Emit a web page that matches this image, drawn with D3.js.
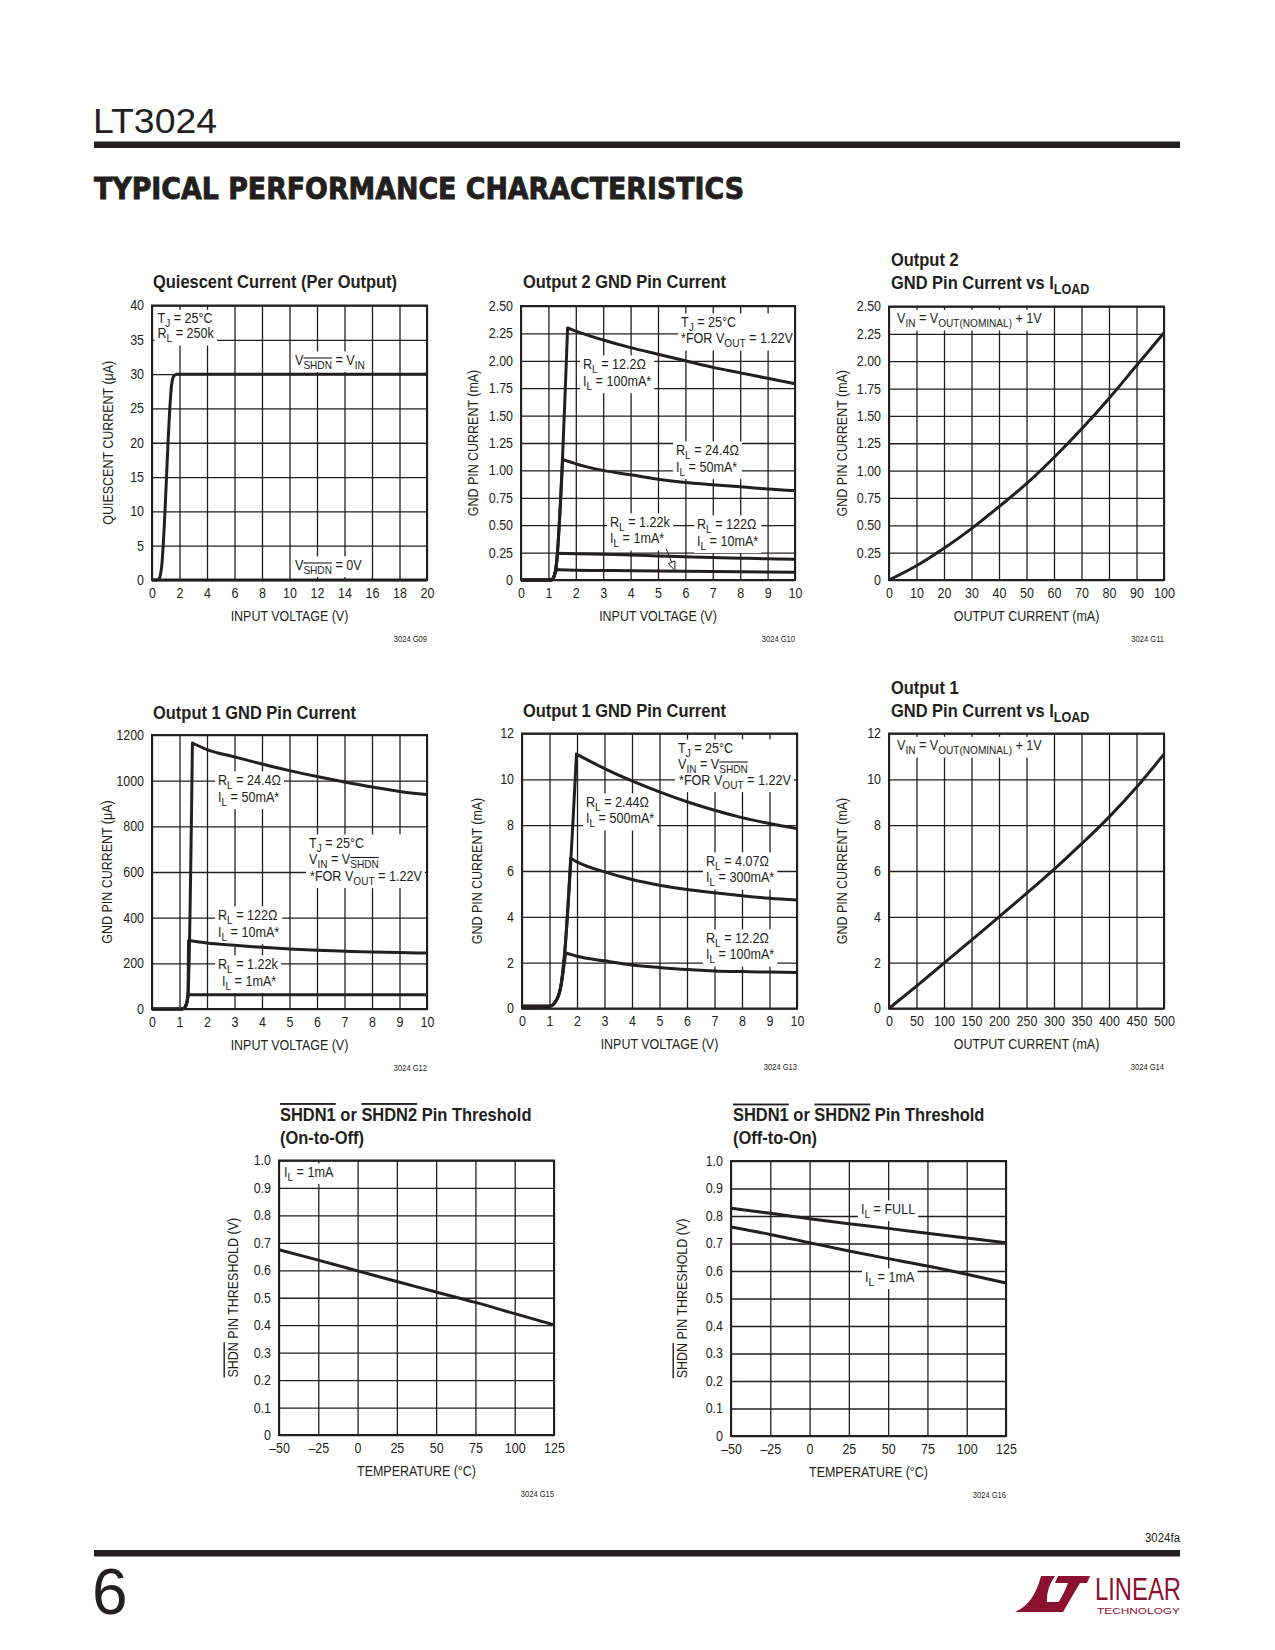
<!DOCTYPE html>
<html><head><meta charset="utf-8">
<script src="https://cdn.jsdelivr.net/npm/d3@7"></script>
<style>
body{margin:0;background:#fff}
svg text{font-family:"Liberation Sans Narrow","Arial Narrow","Liberation Sans",sans-serif;fill:#231f20}
</style></head><body>
<svg id="page" width="1275" height="1650" xmlns="http://www.w3.org/2000/svg"></svg>
<script>
// ---------------- DATA ----------------
// Chart G09 : Quiescent current
const qcXTicks = [0,2,4,6,8,10,12,14,16,18,20];
const qcYTicks = [0,5,10,15,20,25,30,35,40];
const qcOn  = [[0,0],[0.4,0],[0.55,0.3],[0.68,1.6],[1.45,28.8],[1.58,29.7],[1.8,30],[20,30]];
const qcOff = [[0,0],[20,0]];

// Chart G10 : Output 2 GND pin current
const vinTicks = [0,1,2,3,4,5,6,7,8,9,10];
const o2YTicks = [0,0.25,0.5,0.75,1,1.25,1.5,1.75,2,2.25,2.5];
const o2YLabels = ["0","0.25","0.50","0.75","1.00","1.25","1.50","1.75","2.00","2.25","2.50"];
const o2R12  = [[0,0],[1.1,0],[1.2,0.03],[1.28,0.12],[1.7,2.30],[2,2.27],[3,2.19],[4,2.12],[5,2.06],[6,2.00],[7,1.94],[8,1.89],[9,1.84],[10,1.79]];
const o2R24  = [[0,0],[1.1,0],[1.2,0.03],[1.28,0.12],[1.52,1.10],[2,1.06],[3,1.00],[4,0.96],[5,0.92],[6,0.89],[7,0.87],[8,0.85],[9,0.83],[10,0.815]];
const o2R122 = [[0,0],[1.1,0],[1.2,0.03],[1.28,0.12],[1.34,0.245],[2,0.24],[3,0.235],[4,0.228],[5,0.22],[6,0.212],[7,0.205],[8,0.199],[9,0.194],[10,0.19]];
const o2R1k  = [[0,0],[1.1,0],[1.2,0.03],[1.3,0.095],[2,0.09],[4,0.085],[6,0.08],[8,0.075],[10,0.07]];

// Chart G11 : Output 2 GND pin current vs load
const o2LoadTicks = [0,10,20,30,40,50,60,70,80,90,100];
const o2Load = [[0,0],[10,0.13],[20,0.29],[30,0.47],[40,0.67],[50,0.88],[60,1.12],[70,1.38],[80,1.66],[90,1.96],[100,2.26]];

// Chart G12 : Output 1 GND pin current (uA)
const o1uYTicks = [0,200,400,600,800,1000,1200];
const o1R24  = [[0,0],[1.1,0],[1.2,8],[1.27,30],[1.31,62],[1.47,1165],[2,1136],[3,1104],[4,1073],[5,1044],[6,1018],[7,994],[8,972],[9,953],[10,939]];
const o1R122 = [[0,0],[1.1,0],[1.2,8],[1.27,30],[1.31,62],[1.33,300],[2,289],[3,279],[4,270],[5,263],[6,257],[7,253],[8,250],[9,247],[10,245]];
const o1R1k  = [[0,0],[1.1,0],[1.2,8],[1.27,30],[1.31,62],[10,62]];

// Chart G13 : Output 1 GND pin current (mA)
const o1mYTicks = [0,2,4,6,8,10,12];
const o1R244 = [[0,0.1],[1,0.1],[1.25,0.36],[1.43,1.09],[1.55,2.4],[1.98,11.1],[3,10.47],[4,9.93],[5,9.45],[6,9.02],[7,8.65],[8,8.33],[9,8.07],[10,7.85]];
const o1R407 = [[0,0.1],[1,0.1],[1.25,0.36],[1.43,1.09],[1.55,2.4],[1.77,6.56],[2,6.40],[3,5.96],[4,5.63],[5,5.38],[6,5.19],[7,5.05],[8,4.92],[9,4.81],[10,4.73]];
const o1R12  = [[0,0.1],[1,0.1],[1.25,0.36],[1.43,1.09],[1.59,2.43],[2,2.28],[3,2.08],[4,1.90],[5,1.79],[6,1.70],[7,1.64],[8,1.61],[9,1.59],[10,1.57]];

// Chart G14 : Output 1 GND pin current vs load
const o1LoadTicks = [0,50,100,150,200,250,300,350,400,450,500];
const o1Load = [[0,0],[50,0.98],[100,1.98],[150,2.98],[200,4.0],[250,5.02],[300,6.07],[350,7.18],[400,8.35],[450,9.65],[500,11.1]];

// Charts G15/G16 : SHDN thresholds
const tempTicks  = [-50,-25,0,25,50,75,100,125];
const tempLabels = ["\u201350","\u201325","0","25","50","75","100","125"];
const thYTicks  = [0,0.1,0.2,0.3,0.4,0.5,0.6,0.7,0.8,0.9,1.0];
const thYLabels = ["0","0.1","0.2","0.3","0.4","0.5","0.6","0.7","0.8","0.9","1.0"];
const offTh1mA = [[-50,0.675],[-25,0.637],[0,0.598],[25,0.559],[50,0.521],[75,0.483],[100,0.442],[125,0.401]];
const onThFull = [[-50,0.828],[-25,0.81],[0,0.79],[25,0.772],[50,0.755],[75,0.737],[100,0.72],[125,0.703]];
const onTh1mA  = [[-50,0.76],[-25,0.733],[0,0.703],[25,0.673],[50,0.645],[75,0.618],[100,0.588],[125,0.556]];

// ---------------- DRAWING ----------------
const INK = "#231f20";
const SX = 0.89;      // horizontal condensing (narrow typeface look)
const SX_NOTE = 0.9;
const svg = d3.select("#page");

function condense(sel, s){
  sel.each(function(){
    const el = d3.select(this);
    if (el.classed("cd") || el.classed("nc")) return;
    const x = +(el.attr("x") || 0);
    const tr = el.attr("transform") || "";
    el.attr("transform", `${tr} translate(${x},0) scale(${s},1) translate(${-x},0)`).classed("cd", true);
  });
}

function rich(sel, str, size, subScale){
  const re = /(_~\{[^}]*\}|_\{[^}]*\}|~\{[^}]*\})/;
  const parts = str.split(re).filter(s => s.length);
  let shift = 0;
  const subShift = Math.round(size * 0.26);
  parts.forEach(p => {
    let sub = false, over = false, t = p;
    if (p.startsWith("_~{")) { sub = true; over = true; t = p.slice(3, -1); }
    else if (p.startsWith("_{")) { sub = true; t = p.slice(2, -1); }
    else if (p.startsWith("~{")) { over = true; t = p.slice(2, -1); }
    const target = sub ? subShift : 0;
    const ts = sel.append("tspan").text(t);
    if (target - shift !== 0) ts.attr("dy", target - shift);
    shift = target;
    if (sub) ts.attr("font-size", Math.round(size * (subScale || 0.76) * 10) / 10);
    if (over) ts.attr("text-decoration", "overline");
  });
}

function splitPeak(pts){
  let mi = 0;
  pts.forEach((p,i) => { if (p[1] > pts[mi][1]) mi = i; });
  return [pts.slice(0, mi + 1), pts.slice(mi)];
}

function drawChart(c){
  const g = svg.append("g");
  const x = d3.scaleLinear().domain(c.xDomain).range([c.x, c.x + c.w]);
  const y = d3.scaleLinear().domain(c.yDomain).range([c.y + c.h, c.y]);

  // grid
  const gx = g.append("g").attr("transform", `translate(0,${c.y + c.h})`)
    .call(d3.axisBottom(x).tickValues(c.xTicks).tickSize(-c.h).tickFormat(""));
  const gy = g.append("g").attr("transform", `translate(${c.x},0)`)
    .call(d3.axisLeft(y).tickValues(c.yTicks).tickSize(-c.w).tickFormat(""));
  [gx, gy].forEach(a => { a.select(".domain").remove(); a.selectAll("line").attr("stroke", INK).attr("stroke-width", 1.3); });

  const bgLayer = g.append("g");
  const curveLayer = g.append("g");
  const textLayer = g.append("g");
  (c.notes || []).forEach(n => {
    const blk = textLayer.append("g");
    n.lines.forEach((ln, i) => {
      const t = blk.append("text").attr("x", c.x + n.dx + (n.indent ? n.indent[i] || 0 : 0))
        .attr("y", c.y + n.dy + i * (n.lh || 16)).attr("font-size", 14);
      rich(t, ln, 14, 0.8);
      condense(t, SX_NOTE);
    });
    const bb = blk.node().getBBox();
    bgLayer.append("rect").attr("x", bb.x - 3).attr("y", bb.y - 1).attr("width", bb.width + 6)
      .attr("height", bb.height + 2).attr("fill", "#fff");
  });

  // curves: monotone on rise part and fall part separately (sharp peak)
  const line = d3.line().x(d => x(d[0])).y(d => y(d[1])).curve(d3.curveMonotoneX);
  c.series.forEach(s => {
    const [a, b] = splitPeak(s);
    let d = line(a);
    if (b.length > 1) d += line(b).replace(/^M/, "L");
    curveLayer.append("path").attr("d", d).attr("fill", "none").attr("stroke", INK)
      .attr("stroke-width", 3).attr("stroke-linejoin", "round").attr("stroke-linecap", "butt");
  });

  if (c.arrow) {
    const [p0, p1] = c.arrow;
    const x0 = x(p0[0]), y0 = y(p0[1]), x1 = x(p1[0]), y1 = y(p1[1]);
    const ang = Math.atan2(y1 - y0, x1 - x0), L = 9, W = 3.5;
    const bx = x1 - L * Math.cos(ang), by = y1 - L * Math.sin(ang);
    curveLayer.append("line").attr("x1", x0).attr("y1", y0).attr("x2", bx).attr("y2", by)
      .attr("stroke", INK).attr("stroke-width", 1);
    curveLayer.append("path")
      .attr("d", `M${x1},${y1}L${bx - W * Math.sin(ang)},${by + W * Math.cos(ang)}L${bx + W * Math.sin(ang)},${by - W * Math.cos(ang)}Z`)
      .attr("fill", "#fff").attr("stroke", INK).attr("stroke-width", 1);
  }

  // frame
  g.append("rect").attr("x", c.x).attr("y", c.y).attr("width", c.w).attr("height", c.h)
    .attr("fill", "none").attr("stroke", INK).attr("stroke-width", 2);

  // tick labels
  const ax = g.append("g").attr("transform", `translate(0,${c.y + c.h})`)
    .call(d3.axisBottom(x).tickValues(c.xTicks).tickSize(0).tickPadding(8)
      .tickFormat((d, i) => c.xLabels ? c.xLabels[i] : String(d)));
  const ay = g.append("g").attr("transform", `translate(${c.x},0)`)
    .call(d3.axisLeft(y).tickValues(c.yTicks).tickSize(0).tickPadding(8)
      .tickFormat((d, i) => c.yLabels ? c.yLabels[i] : String(d)));
  [ax, ay].forEach(a => {
    a.select(".domain").remove();
    a.attr("font-family", null).attr("font-size", null);
    a.selectAll("text").attr("font-size", 14).attr("fill", INK);
  });

  // axis titles
  const xt = g.append("text").attr("x", c.x + c.w / 2).attr("y", c.y + c.h + 41)
    .attr("text-anchor", "middle").attr("font-size", 14);
  rich(xt, c.xTitle, 14);
  const yt = g.append("text").attr("transform", `translate(${c.yTitleX},${c.y + c.h / 2}) rotate(-90)`)
    .attr("text-anchor", "middle").attr("dominant-baseline", "central").attr("font-size", 14);
  rich(yt, c.yTitle, 14);

  // chart title
  c.title.forEach((ln, i) => {
    const t = g.append("text").attr("x", c.titleX).attr("y", c.titleY + i * 23)
      .attr("font-size", 18.5).attr("font-weight", "bold");
    rich(t, ln, 18.5);
  });

  // figure code
  g.append("text").attr("x", c.x + c.w).attr("y", c.y + c.h + 62).attr("text-anchor", "end")
    .attr("font-size", 8.5).text(c.code);
}

const charts = [
  { x:152, y:305.5, w:275, h:274.5, xDomain:[0,20], yDomain:[0,40], xTicks:qcXTicks, yTicks:qcYTicks,
    series:[qcOn, qcOff], title:["Quiescent Current (Per Output)"], titleX:153, titleY:288,
    xTitle:"INPUT VOLTAGE (V)", yTitle:"QUIESCENT CURRENT (\u03bcA)", yTitleX:108, code:"3024 G09",
    notes:[ {dx:5.5, dy:18, lh:15, lines:["T_{J} = 25\u00b0C","R_{L} = 250k"]},
            {dx:143, dy:59.5, lines:["V_~{SHDN} = V_{IN}"]},
            {dx:143, dy:264.5, lines:["V_~{SHDN} = 0V"]} ] },
  { x:521, y:306, w:274, h:274, xDomain:[0,10], yDomain:[0,2.5], xTicks:vinTicks, yTicks:o2YTicks, yLabels:o2YLabels,
    series:[o2R12, o2R24, o2R122, o2R1k], title:["Output 2 GND Pin Current"], titleX:523, titleY:288,
    xTitle:"INPUT VOLTAGE (V)", yTitle:"GND PIN CURRENT (mA)", yTitleX:473, code:"3024 G10",
    arrow:[[5.3,0.285],[5.62,0.085]],
    notes:[ {dx:160, dy:21, lh:16.5, lines:["T_{J} = 25\u00b0C","*FOR V_{OUT} = 1.22V"], indent:[0,0]},
            {dx:62, dy:63, lh:17, lines:["R_{L} = 12.2\u03a9","I_{L} = 100mA*"]},
            {dx:155, dy:149, lh:17, lines:["R_{L} = 24.4\u03a9","I_{L} = 50mA*"]},
            {dx:89, dy:221, lh:16.5, lines:["R_{L} = 1.22k","I_{L} = 1mA*"]},
            {dx:176, dy:223, lh:17, lines:["R_{L} = 122\u03a9","I_{L} = 10mA*"]} ] },
  { x:889, y:306.5, w:275, h:273.5, xDomain:[0,100], yDomain:[0,2.5], xTicks:o2LoadTicks, yTicks:o2YTicks, yLabels:o2YLabels,
    series:[o2Load], title:["Output 2","GND Pin Current vs I_{LOAD}"], titleX:891, titleY:266.5,
    xTitle:"OUTPUT CURRENT (mA)", yTitle:"GND PIN CURRENT (mA)", yTitleX:842, code:"3024 G11",
    notes:[ {dx:8, dy:17, lines:["V_{IN} = V_{OUT(NOMINAL)} + 1V"]} ] },
  { x:152, y:735, w:275, h:274, xDomain:[0,10], yDomain:[0,1200], xTicks:vinTicks, yTicks:o1uYTicks,
    series:[o1R24, o1R122, o1R1k], title:["Output 1 GND Pin Current"], titleX:153, titleY:719,
    xTitle:"INPUT VOLTAGE (V)", yTitle:"GND PIN CURRENT (\u03bcA)", yTitleX:107, code:"3024 G12",
    notes:[ {dx:66, dy:50, lh:17, lines:["R_{L} = 24.4\u03a9","I_{L} = 50mA*"]},
            {dx:157, dy:113, lh:16.5, lines:["T_{J} = 25\u00b0C","V_{IN} = V_~{SHDN}","*FOR V_{OUT} = 1.22V"], indent:[0,0,1]},
            {dx:66, dy:185, lh:17, lines:["R_{L} = 122\u03a9","I_{L} = 10mA*"]},
            {dx:66, dy:234, lh:17, lines:["R_{L} = 1.22k","I_{L} = 1mA*"], indent:[0,4]} ] },
  { x:522, y:733.5, w:275, h:275, xDomain:[0,10], yDomain:[0,12], xTicks:vinTicks, yTicks:o1mYTicks,
    series:[o1R244, o1R407, o1R12], title:["Output 1 GND Pin Current"], titleX:523, titleY:717,
    xTitle:"INPUT VOLTAGE (V)", yTitle:"GND PIN CURRENT (mA)", yTitleX:477, code:"3024 G13",
    notes:[ {dx:156, dy:19.5, lh:16, lines:["T_{J} = 25\u00b0C","V_{IN} = V_~{SHDN}","*FOR V_{OUT} = 1.22V"], indent:[0,0,1]},
            {dx:64, dy:73.5, lh:16.5, lines:["R_{L} = 2.44\u03a9","I_{L} = 500mA*"]},
            {dx:184, dy:132.5, lh:16.5, lines:["R_{L} = 4.07\u03a9","I_{L} = 300mA*"]},
            {dx:184, dy:209.5, lh:16.5, lines:["R_{L} = 12.2\u03a9","I_{L} = 100mA*"]} ] },
  { x:889, y:733.5, w:275, h:275, xDomain:[0,500], yDomain:[0,12], xTicks:o1LoadTicks, yTicks:o1mYTicks,
    series:[o1Load], title:["Output 1","GND Pin Current vs I_{LOAD}"], titleX:891, titleY:694,
    xTitle:"OUTPUT CURRENT (mA)", yTitle:"GND PIN CURRENT (mA)", yTitleX:842, code:"3024 G14",
    notes:[ {dx:8, dy:17, lines:["V_{IN} = V_{OUT(NOMINAL)} + 1V"]} ] },
  { x:279, y:1160.5, w:275, h:274.5, xDomain:[-50,125], yDomain:[0,1], xTicks:tempTicks, xLabels:tempLabels, yTicks:thYTicks, yLabels:thYLabels,
    series:[offTh1mA], title:["~{SHDN1} or ~{SHDN2} Pin Threshold","(On-to-Off)"], titleX:280, titleY:1121,
    xTitle:"TEMPERATURE (\u00b0C)", yTitle:"~{SHDN} PIN THRESHOLD (V)", yTitleX:233, code:"3024 G15",
    notes:[ {dx:5, dy:16.5, lines:["I_{L} = 1mA"]} ] },
  { x:731, y:1161, w:275, h:275, xDomain:[-50,125], yDomain:[0,1], xTicks:tempTicks, xLabels:tempLabels, yTicks:thYTicks, yLabels:thYLabels,
    series:[onThFull, onTh1mA], title:["~{SHDN1} or ~{SHDN2} Pin Threshold","(Off-to-On)"], titleX:733, titleY:1121.5,
    xTitle:"TEMPERATURE (\u00b0C)", yTitle:"~{SHDN} PIN THRESHOLD (V)", yTitleX:682, code:"3024 G16",
    notes:[ {dx:130, dy:53, lines:["I_{L} = FULL"]},
            {dx:134, dy:121, lines:["I_{L} = 1mA"]} ] }
];
charts.forEach(drawChart);

// condense every remaining chart text (narrow typeface look)
condense(svg.selectAll("text"), SX);

// ---------------- PAGE FURNITURE ----------------
svg.append("text").attr("class", "nc").attr("x", 93).attr("y", 133).attr("font-size", 35)
  .style("font-family", "'Liberation Sans',sans-serif").attr("font-weight", 300)
  .attr("textLength", 124).attr("lengthAdjust", "spacingAndGlyphs").text("LT3024");
svg.append("rect").attr("x", 94).attr("y", 141.5).attr("width", 1086).attr("height", 6.5).attr("fill", INK);
svg.append("text").attr("class", "nc").attr("x", 94).attr("y", 199).attr("font-size", 29.5)
  .style("font-family", "'DejaVu Sans',sans-serif").attr("font-weight", "bold")
  .style("stroke", INK).style("stroke-width", 0.9)
  .attr("textLength", 650).attr("lengthAdjust", "spacingAndGlyphs").text("TYPICAL PERFORMANCE CHARACTERISTICS");

svg.append("text").attr("class", "nc").attr("x", 1180).attr("y", 1541.5).attr("text-anchor", "end").attr("font-size", 12)
  .attr("textLength", 35).attr("lengthAdjust", "spacingAndGlyphs").text("3024fa");
svg.append("rect").attr("x", 94).attr("y", 1550).attr("width", 1086).attr("height", 6.5).attr("fill", INK);
svg.append("text").attr("class", "nc").attr("x", 92).attr("y", 1614).attr("font-size", 64)
  .style("font-family", "'Liberation Sans',sans-serif").attr("font-weight", 300).text("6");

const LOGO = "#8c1131";
const logo = svg.append("g").attr("fill", LOGO);
logo.append("path").attr("d", "M1041,1576 L1055,1576 Q1046,1589 1047,1602 L1061,1602 L1057,1612 L1015,1612 Q1034,1604 1041,1576 Z");
logo.append("path").attr("d", "M1058,1576 L1090,1576 L1087,1583 L1080,1583 Q1071,1598 1063,1612 L1052,1612 Q1063,1597 1068,1583 L1055,1583 Z");
logo.append("text").attr("class", "nc").attr("x", 1095).attr("y", 1600).attr("font-size", 31).style("fill", LOGO)
  .attr("textLength", 86).attr("lengthAdjust", "spacingAndGlyphs").text("LINEAR");
logo.append("text").attr("class", "nc").attr("x", 1097).attr("y", 1614).attr("font-size", 9).style("fill", LOGO)
  .style("font-family", "'Liberation Sans',sans-serif")
  .attr("textLength", 83).attr("lengthAdjust", "spacingAndGlyphs").text("TECHNOLOGY");
</script>
</body></html>
